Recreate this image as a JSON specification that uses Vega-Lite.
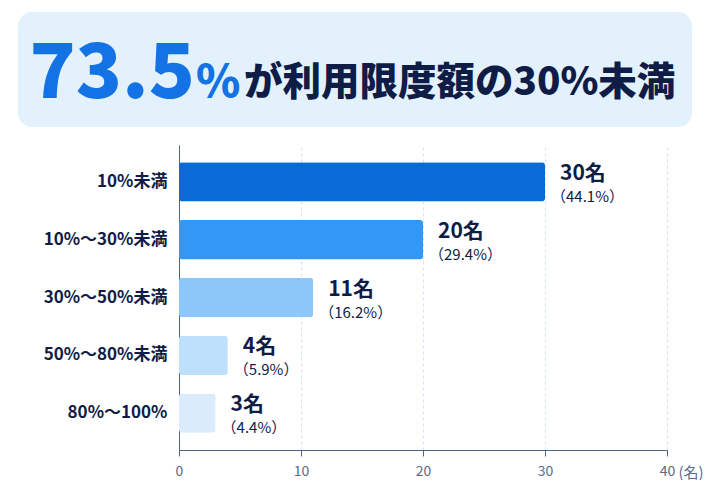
{
  "$schema": "https://vega.github.io/schema/vega-lite/v6.json",
  "background": "#ffffff",
  "padding": {"left": 18, "top": 12, "right": 0, "bottom": 0},
  "spacing": 18,
  "config": {
    "view": {"stroke": null},
    "font": "Noto Sans CJK JP"
  },
  "vconcat": [
    {
      "width": 674,
      "height": 115,
      "view": {"fill": "#e2f1fc", "cornerRadius": 14, "stroke": null},
      "data": {"values": [{"lead": "73.5", "unit": "%", "rest": "が利用限度額の30%未満"}]},
      "layer": [
        {
          "mark": {"type": "text", "align": "right", "baseline": "alphabetic", "dx": -160, "dy": 28, "fontSize": 76, "fontWeight": 900, "color": "#1372e4"},
          "encoding": {"text": {"field": "lead"}}
        },
        {
          "mark": {"type": "text", "align": "left", "baseline": "alphabetic", "dx": -159, "dy": 27, "fontSize": 45, "fontWeight": 900, "color": "#1372e4"},
          "encoding": {"text": {"field": "unit"}}
        },
        {
          "mark": {"type": "text", "align": "left", "baseline": "alphabetic", "dx": -111, "dy": 25, "fontSize": 38.5, "fontWeight": 900, "color": "#0e1c46"},
          "encoding": {"text": {"field": "rest"}}
        }
      ]
    },
    {
      "width": 674,
      "height": 305,
      "data": {
        "values": [
          {"range": "10%未満", "count": 30, "label": "30名", "share": "（44.1%）"},
          {"range": "10%～30%未満", "count": 20, "label": "20名", "share": "（29.4%）"},
          {"range": "30%～50%未満", "count": 11, "label": "11名", "share": "（16.2%）"},
          {"range": "50%～80%未満", "count": 4, "label": "4名", "share": "（5.9%）"},
          {"range": "80%～100%", "count": 3, "label": "3名", "share": "（4.4%）"}
        ]
      },
      "encoding": {
        "y": {
          "field": "range",
          "type": "nominal",
          "sort": null,
          "scale": {"paddingInner": 0.32, "paddingOuter": 0.3},
          "axis": {
            "title": null,
            "offset": -161,
            "ticks": false,
            "grid": false,
            "domainColor": "#53627f",
            "labelPadding": 12,
            "labelFontSize": 17,
            "labelFontWeight": "bold",
            "labelColor": "#0e1c46"
          }
        },
        "x": {
          "field": "count",
          "type": "quantitative",
          "scale": {"domain": [0, 40], "range": [161, 649]},
          "axis": {
            "values": [0, 10, 20, 30, 40],
            "labelFlush": false,
            "grid": true,
            "gridDash": [3, 3],
            "gridColor": "#d2e3f4",
            "domainColor": "#53627f",
            "tickColor": "#53627f",
            "tickSize": 6,
            "labelFontSize": 14,
            "labelColor": "#5a6a8c",
            "labelPadding": 8,
            "title": "(名)",
            "titleX": 660,
            "titleY": 22,
            "titleAlign": "left",
            "titleBaseline": "middle",
            "titleAngle": 0,
            "titleFontSize": 15,
            "titleFontWeight": "normal",
            "titleColor": "#5a6a8c"
          }
        }
      },
      "layer": [
        {
          "mark": {"type": "bar", "cornerRadius": 3},
          "encoding": {
            "color": {
              "field": "range",
              "type": "nominal",
              "sort": null,
              "scale": {"range": ["#0a6ad8", "#3398f5", "#8dc7fa", "#bee0fc", "#daecfc"]},
              "legend": null
            }
          }
        },
        {
          "mark": {"type": "text", "align": "left", "baseline": "middle", "dx": 15, "dy": -8, "fontSize": 21, "fontWeight": "bold", "color": "#0e1c46"},
          "encoding": {"text": {"field": "label"}}
        },
        {
          "mark": {"type": "text", "align": "left", "baseline": "middle", "dx": 6, "dy": 15, "fontSize": 15, "color": "#0e1c46"},
          "encoding": {"text": {"field": "share"}}
        }
      ]
    }
  ]
}
